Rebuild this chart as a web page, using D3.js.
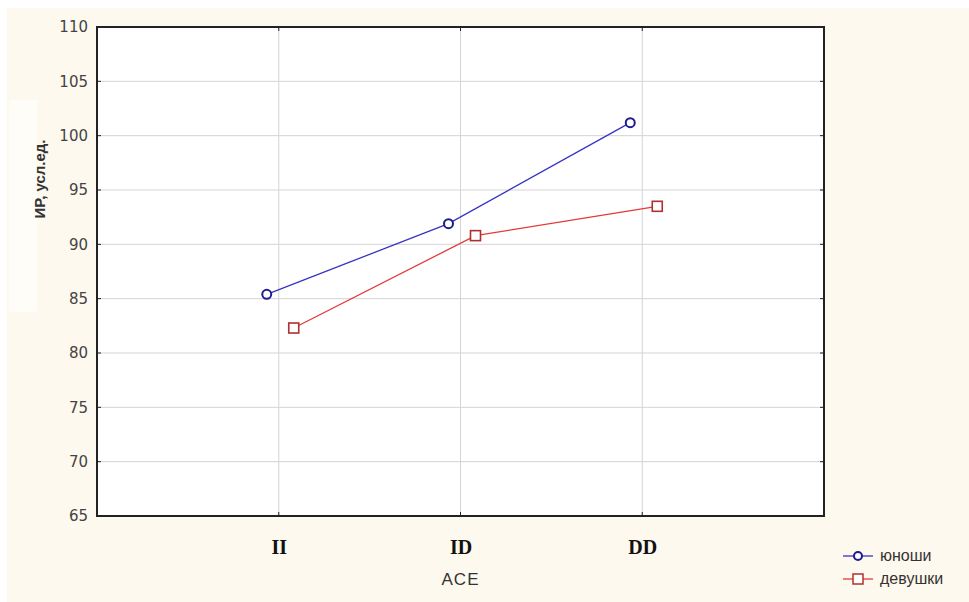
<!DOCTYPE html>
<html>
<head>
<meta charset="utf-8">
<script src="https://cdn.jsdelivr.net/npm/d3@7"></script>
<style>
    body { margin: 0; background: #fff; }
    svg { display: block; }
</style>
</head>
<body>
<svg id="paper" width="969" height="602"></svg>
<script>
// data
var categories = ["II", "ID", "DD"];
var boys = [85.4, 91.9, 101.2];
var girls = [82.3, 90.8, 93.5];
var seriesNames = ["юноши", "девушки"];
var yTicks = [65, 70, 75, 80, 85, 90, 95, 100, 105, 110];

var svg = d3.select("#paper");
var plot = { left: 97, top: 27, right: 824, bottom: 516 };

// page background
svg.append("rect").attr("x", 7).attr("y", 8).attr("width", 962).attr("height", 594).attr("fill", "#fef9ee");
svg.append("rect").attr("x", 9).attr("y", 100).attr("width", 28).attr("height", 212).attr("fill", "#fffdf8");

var x = d3.scalePoint().domain(["", ...categories, " "]).range([plot.left, plot.right]);
var y = d3.scaleLinear().domain([65, 110]).range([plot.bottom, plot.top]);

svg.append("rect")
    .attr("x", plot.left).attr("y", plot.top)
    .attr("width", plot.right - plot.left).attr("height", plot.bottom - plot.top)
    .attr("fill", "#fff");

// grid
var grid = svg.append("g");
grid.selectAll("line.h").data(yTicks.slice(1, -1)).enter().append("line")
    .attr("x1", plot.left).attr("x2", plot.right)
    .attr("y1", function (d) { return y(d); }).attr("y2", function (d) { return y(d); })
    .attr("stroke", "#d4d4d4").attr("stroke-width", 1);
grid.selectAll("line.v").data(categories).enter().append("line")
    .attr("x1", function (d) { return x(d); }).attr("x2", function (d) { return x(d); })
    .attr("y1", plot.top).attr("y2", plot.bottom)
    .attr("stroke", "#d4d4d4").attr("stroke-width", 1);

// axes
var yAxis = d3.axisLeft(y).tickValues(yTicks).tickSize(0).tickPadding(9);
var gy = svg.append("g").attr("transform", "translate(" + plot.left + ",0)").call(yAxis);
gy.select(".domain").remove();
gy.selectAll("text").attr("font-family", "'DejaVu Sans', Verdana, sans-serif")
    .attr("font-size", 15).attr("fill", "#444");

var xAxis = d3.axisBottom(x).tickValues(categories).tickSize(0).tickPadding(24);
var gx = svg.append("g").attr("transform", "translate(0," + plot.bottom + ")").call(xAxis);
gx.select(".domain").remove();
gx.selectAll("text").attr("font-family", "'Liberation Serif', 'Times New Roman', serif")
    .attr("font-size", 20).attr("font-weight", "bold").attr("fill", "#111");

// inner tick marks
var ticks = svg.append("g").attr("stroke", "#222").attr("stroke-width", 1);
yTicks.slice(1, -1).forEach(function (d) {
    ticks.append("line").attr("x1", plot.left).attr("x2", plot.left + 4).attr("y1", y(d)).attr("y2", y(d));
    ticks.append("line").attr("x1", plot.right - 4).attr("x2", plot.right).attr("y1", y(d)).attr("y2", y(d));
});
categories.forEach(function (d) {
    ticks.append("line").attr("x1", x(d)).attr("x2", x(d)).attr("y1", plot.top).attr("y2", plot.top + 4);
    ticks.append("line").attr("x1", x(d)).attr("x2", x(d)).attr("y1", plot.bottom - 4).attr("y2", plot.bottom);
});

// frame
svg.append("rect")
    .attr("x", plot.left).attr("y", plot.top)
    .attr("width", plot.right - plot.left).attr("height", plot.bottom - plot.top)
    .attr("fill", "none").attr("stroke", "#222").attr("stroke-width", 2);

// titles
svg.append("text").attr("x", x("ID")).attr("y", 585).attr("text-anchor", "middle")
    .attr("font-family", "Arial, 'Liberation Sans', sans-serif").attr("font-size", 17)
    .attr("letter-spacing", 1).attr("fill", "#333")
    .text("ACE");
svg.append("text").attr("transform", "translate(45,179) rotate(-90)").attr("text-anchor", "middle")
    .attr("font-family", "Arial, 'Liberation Sans', sans-serif").attr("font-size", 15)
    .attr("font-weight", "bold").attr("fill", "#333")
    .text("ИР, усл.ед.");

// series
var line = d3.line()
    .x(function (d) { return x(d.cat) + d.dx; })
    .y(function (d) { return y(d.v); });

var boysPts = categories.map(function (c, i) { return { cat: c, v: boys[i], dx: -12 }; });
var girlsPts = categories.map(function (c, i) { return { cat: c, v: girls[i], dx: 15 }; });

svg.append("path").datum(boysPts).attr("d", line)
    .attr("fill", "none").attr("stroke", "#3535c0").attr("stroke-width", 1.3);
svg.selectAll("circle.boys").data(boysPts).enter().append("circle")
    .attr("cx", function (d) { return x(d.cat) + d.dx; })
    .attr("cy", function (d) { return y(d.v); })
    .attr("r", 4.5).attr("fill", "#fff").attr("stroke", "#1c1c90").attr("stroke-width", 2);

svg.append("path").datum(girlsPts).attr("d", line)
    .attr("fill", "none").attr("stroke", "#e23a3a").attr("stroke-width", 1.3);
svg.selectAll("rect.girls").data(girlsPts).enter().append("rect")
    .attr("x", function (d) { return x(d.cat) + d.dx - 5; })
    .attr("y", function (d) { return y(d.v) - 5; })
    .attr("width", 10).attr("height", 10)
    .attr("fill", "#fff").attr("stroke", "#b03030").attr("stroke-width", 1.6);

// legend
var legend = svg.append("g").attr("transform", "translate(843,556)");
legend.append("line").attr("x1", 0).attr("x2", 30).attr("y1", 0).attr("y2", 0)
    .attr("stroke", "#3535c0").attr("stroke-width", 1.3);
legend.append("circle").attr("cx", 15).attr("cy", 0).attr("r", 4)
    .attr("fill", "#fff").attr("stroke", "#1c1c90").attr("stroke-width", 2);
legend.append("line").attr("x1", 0).attr("x2", 30).attr("y1", 23).attr("y2", 23)
    .attr("stroke", "#e23a3a").attr("stroke-width", 1.3);
legend.append("rect").attr("x", 10).attr("y", 18).attr("width", 10).attr("height", 10)
    .attr("fill", "#fff").attr("stroke", "#b03030").attr("stroke-width", 1.5);
legend.selectAll("text").data(seriesNames).enter().append("text")
    .attr("x", 37).attr("y", function (d, i) { return i * 23 + 5; })
    .attr("font-family", "Arial, 'Liberation Sans', sans-serif").attr("font-size", 16).attr("fill", "#333")
    .text(function (d) { return d; });
</script>
</body>
</html>
